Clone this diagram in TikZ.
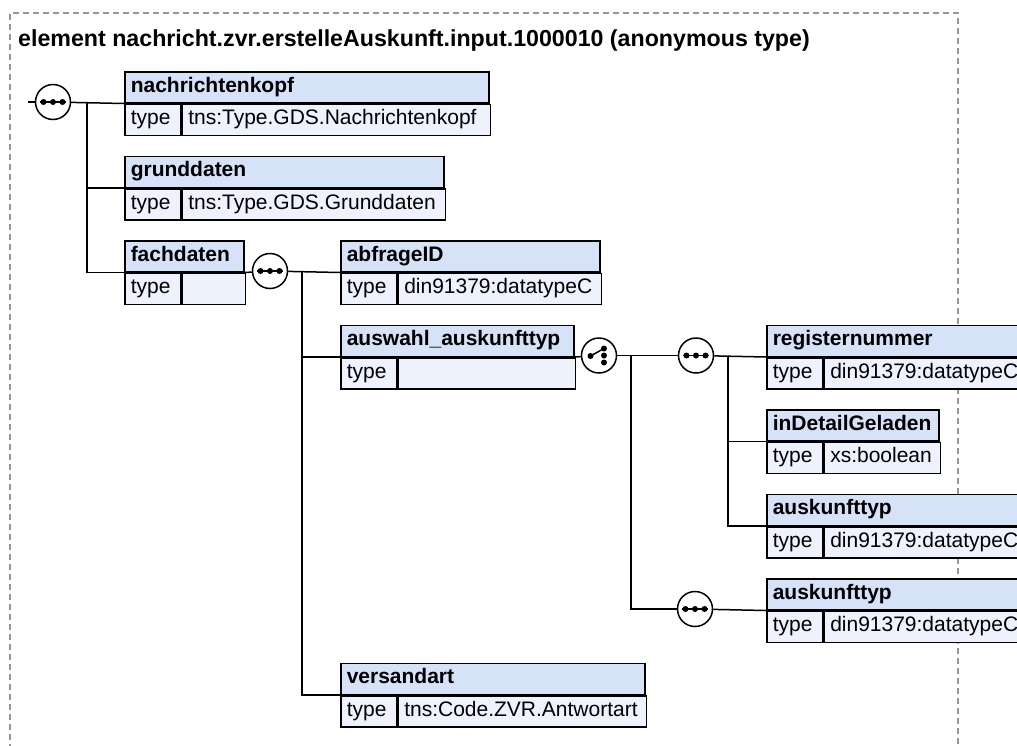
\documentclass[tikz,border=0pt]{standalone}
\usepackage{fontspec}
\setmainfont{Liberation Sans}
\usetikzlibrary{calc}
\definecolor{hdfill}{RGB}{214,226,247}
\definecolor{rowfill}{RGB}{237,242,252}
\definecolor{framegray}{RGB}{150,150,150}
\newcommand{\boxfont}{\fontsize{21}{25}\selectfont}
\tikzstyle{conn} = [line width=1.5pt]
\tikzstyle{hd} = [draw, line width=1.5pt, fill=hdfill, anchor=north west, minimum height=31pt, inner xsep=6pt, inner ysep=0pt, text height=15pt, text depth=5pt, align=left, font=\boxfont\bfseries]
\tikzstyle{tl} = [hd, fill=rowfill, font=\boxfont, text width=44pt]
\tikzstyle{seq} = [circle, draw, line width=1.5pt, fill=white, minimum size=35pt, inner sep=0pt,
  path picture={
    \draw[black, line width=1.5pt] ($(path picture bounding box.center)+(-13,0)$) -- ++(26,0);
    \foreach \d in {-9.5,0,9.5}
      \fill[black] ($(path picture bounding box.center)+(\d,0)$) circle[radius=3];
  }]
\tikzstyle{choice} = [circle, draw, line width=1.5pt, fill=white, minimum size=35pt, inner sep=0pt,
  path picture={
    \draw[black, line width=1.5pt] ($(path picture bounding box.center)+(-8.5,0.5)$) -- ($(path picture bounding box.center)+(5,-7)$);
    \foreach \d in {-7,0,7}
      \fill[black] ($(path picture bounding box.center)+(5,\d)$) circle[radius=3];
    \fill[black] ($(path picture bounding box.center)+(-8.5,0.5)$) circle[radius=3];
  }]

\begin{document}
\begin{tikzpicture}[x=1pt,y=-1pt]
\useasboundingbox (0,0) rectangle (1017,745);
\clip (0,0) rectangle (1017,745);

% outer frame
\draw[framegray, line width=1.3pt, dash pattern=on 6pt off 4pt] (10,760) -- (10,13) -- (958,13) -- (958,760);
\node[anchor=base west, inner sep=0pt, font=\fontsize{23.2}{28}\selectfont\bfseries] (ttl) at (18,46) {element nachricht.zvr.erstelleAuskunft.input.1000010 (anonymous type)};

% elements
\node[hd, text width=352pt] (nk) at (124,71) {nachrichtenkopf};
\node[tl] (nkT) at (nk.south west) {type};
\node[tl, text width=296pt] (nkV) at (nkT.north east) {tns:Type.GDS.Nachrichtenkopf};

\node[hd, text width=307pt] (gd) at (124,155.5) {grunddaten};
\node[tl] (gdT) at (gd.south west) {type};
\node[tl, text width=251pt] (gdV) at (gdT.north east) {tns:Type.GDS.Grunddaten};

\node[hd, text width=107pt] (fd) at (124,240) {fachdaten};
\node[tl] (fdT) at (fd.south west) {type};
\node[tl, text width=51pt] (fdV) at (fdT.north east) {};

\node[hd, text width=247pt] (ab) at (340,240) {abfrageID};
\node[tl] (abT) at (ab.south west) {type};
\node[tl, text width=191pt] (abV) at (abT.north east) {din91379:datatypeC};

\node[hd, text width=221pt] (aw) at (340,324.5) {auswahl\_auskunfttyp};
\node[tl] (awT) at (aw.south west) {type};
\node[tl, text width=165pt] (awV) at (awT.north east) {};

\node[hd, text width=247pt] (rn) at (766,324.5) {registernummer};
\node[tl] (rnT) at (rn.south west) {type};
\node[tl, text width=191pt] (rnV) at (rnT.north east) {din91379:datatypeC};

\node[hd, text width=160pt] (idg) at (766,409) {inDetailGeladen};
\node[tl] (idgT) at (idg.south west) {type};
\node[tl, text width=104pt] (idgV) at (idgT.north east) {xs:boolean};

\node[hd, text width=247pt] (akA) at (766,493.5) {auskunfttyp};
\node[tl] (akAT) at (akA.south west) {type};
\node[tl, text width=191pt] (akAV) at (akAT.north east) {din91379:datatypeC};

\node[hd, text width=247pt] (akB) at (766,578) {auskunfttyp};
\node[tl] (akBT) at (akB.south west) {type};
\node[tl, text width=191pt] (akBV) at (akBT.north east) {din91379:datatypeC};

\node[hd, text width=292pt] (vs) at (340,662.5) {versandart};
\node[tl] (vsT) at (vs.south west) {type};
\node[tl, text width=236pt] (vsV) at (vsT.north east) {tns:Code.ZVR.Antwortart};

% compositors
\node[seq] (s0) at (53,102) {};
\node[seq] (s1) at (270,271) {};
\node[choice] (c1) at (599,355.5) {};
\node[seq] (s2) at (696,355.5) {};
\node[seq] (s3) at (695,609) {};

\coordinate (in) at (28,102);
\coordinate (b0) at (87,102);
\coordinate (b1) at (302,271);
\coordinate (b2) at (631,355.5);
\coordinate (b3) at (728,355.5);

\draw[conn] (in) -- (s0);
\draw[conn] (s0) -- (nk.south west);
\draw[conn] (b0) |- (gd.south west);
\draw[conn] (b0) |- (fd.south west);

\draw[conn] (fd.south east) -- (s1);
\draw[conn] (s1) -- (ab.south west);
\draw[conn] (b1) |- (aw.south west);
\draw[conn] (b1) |- (vs.south west);

\draw[conn] (aw.south east) -- (c1);
\draw[conn] (c1) -- (s2);
\draw[conn] (s2) -- (rn.south west);
\draw[conn] (b3) |- (idg.south west);
\draw[conn] (b3) |- (akA.south west);
\draw[conn] (b2) |- (s3);
\draw[conn] (s3) -- (akB.south west);
\end{tikzpicture}
\end{document}
